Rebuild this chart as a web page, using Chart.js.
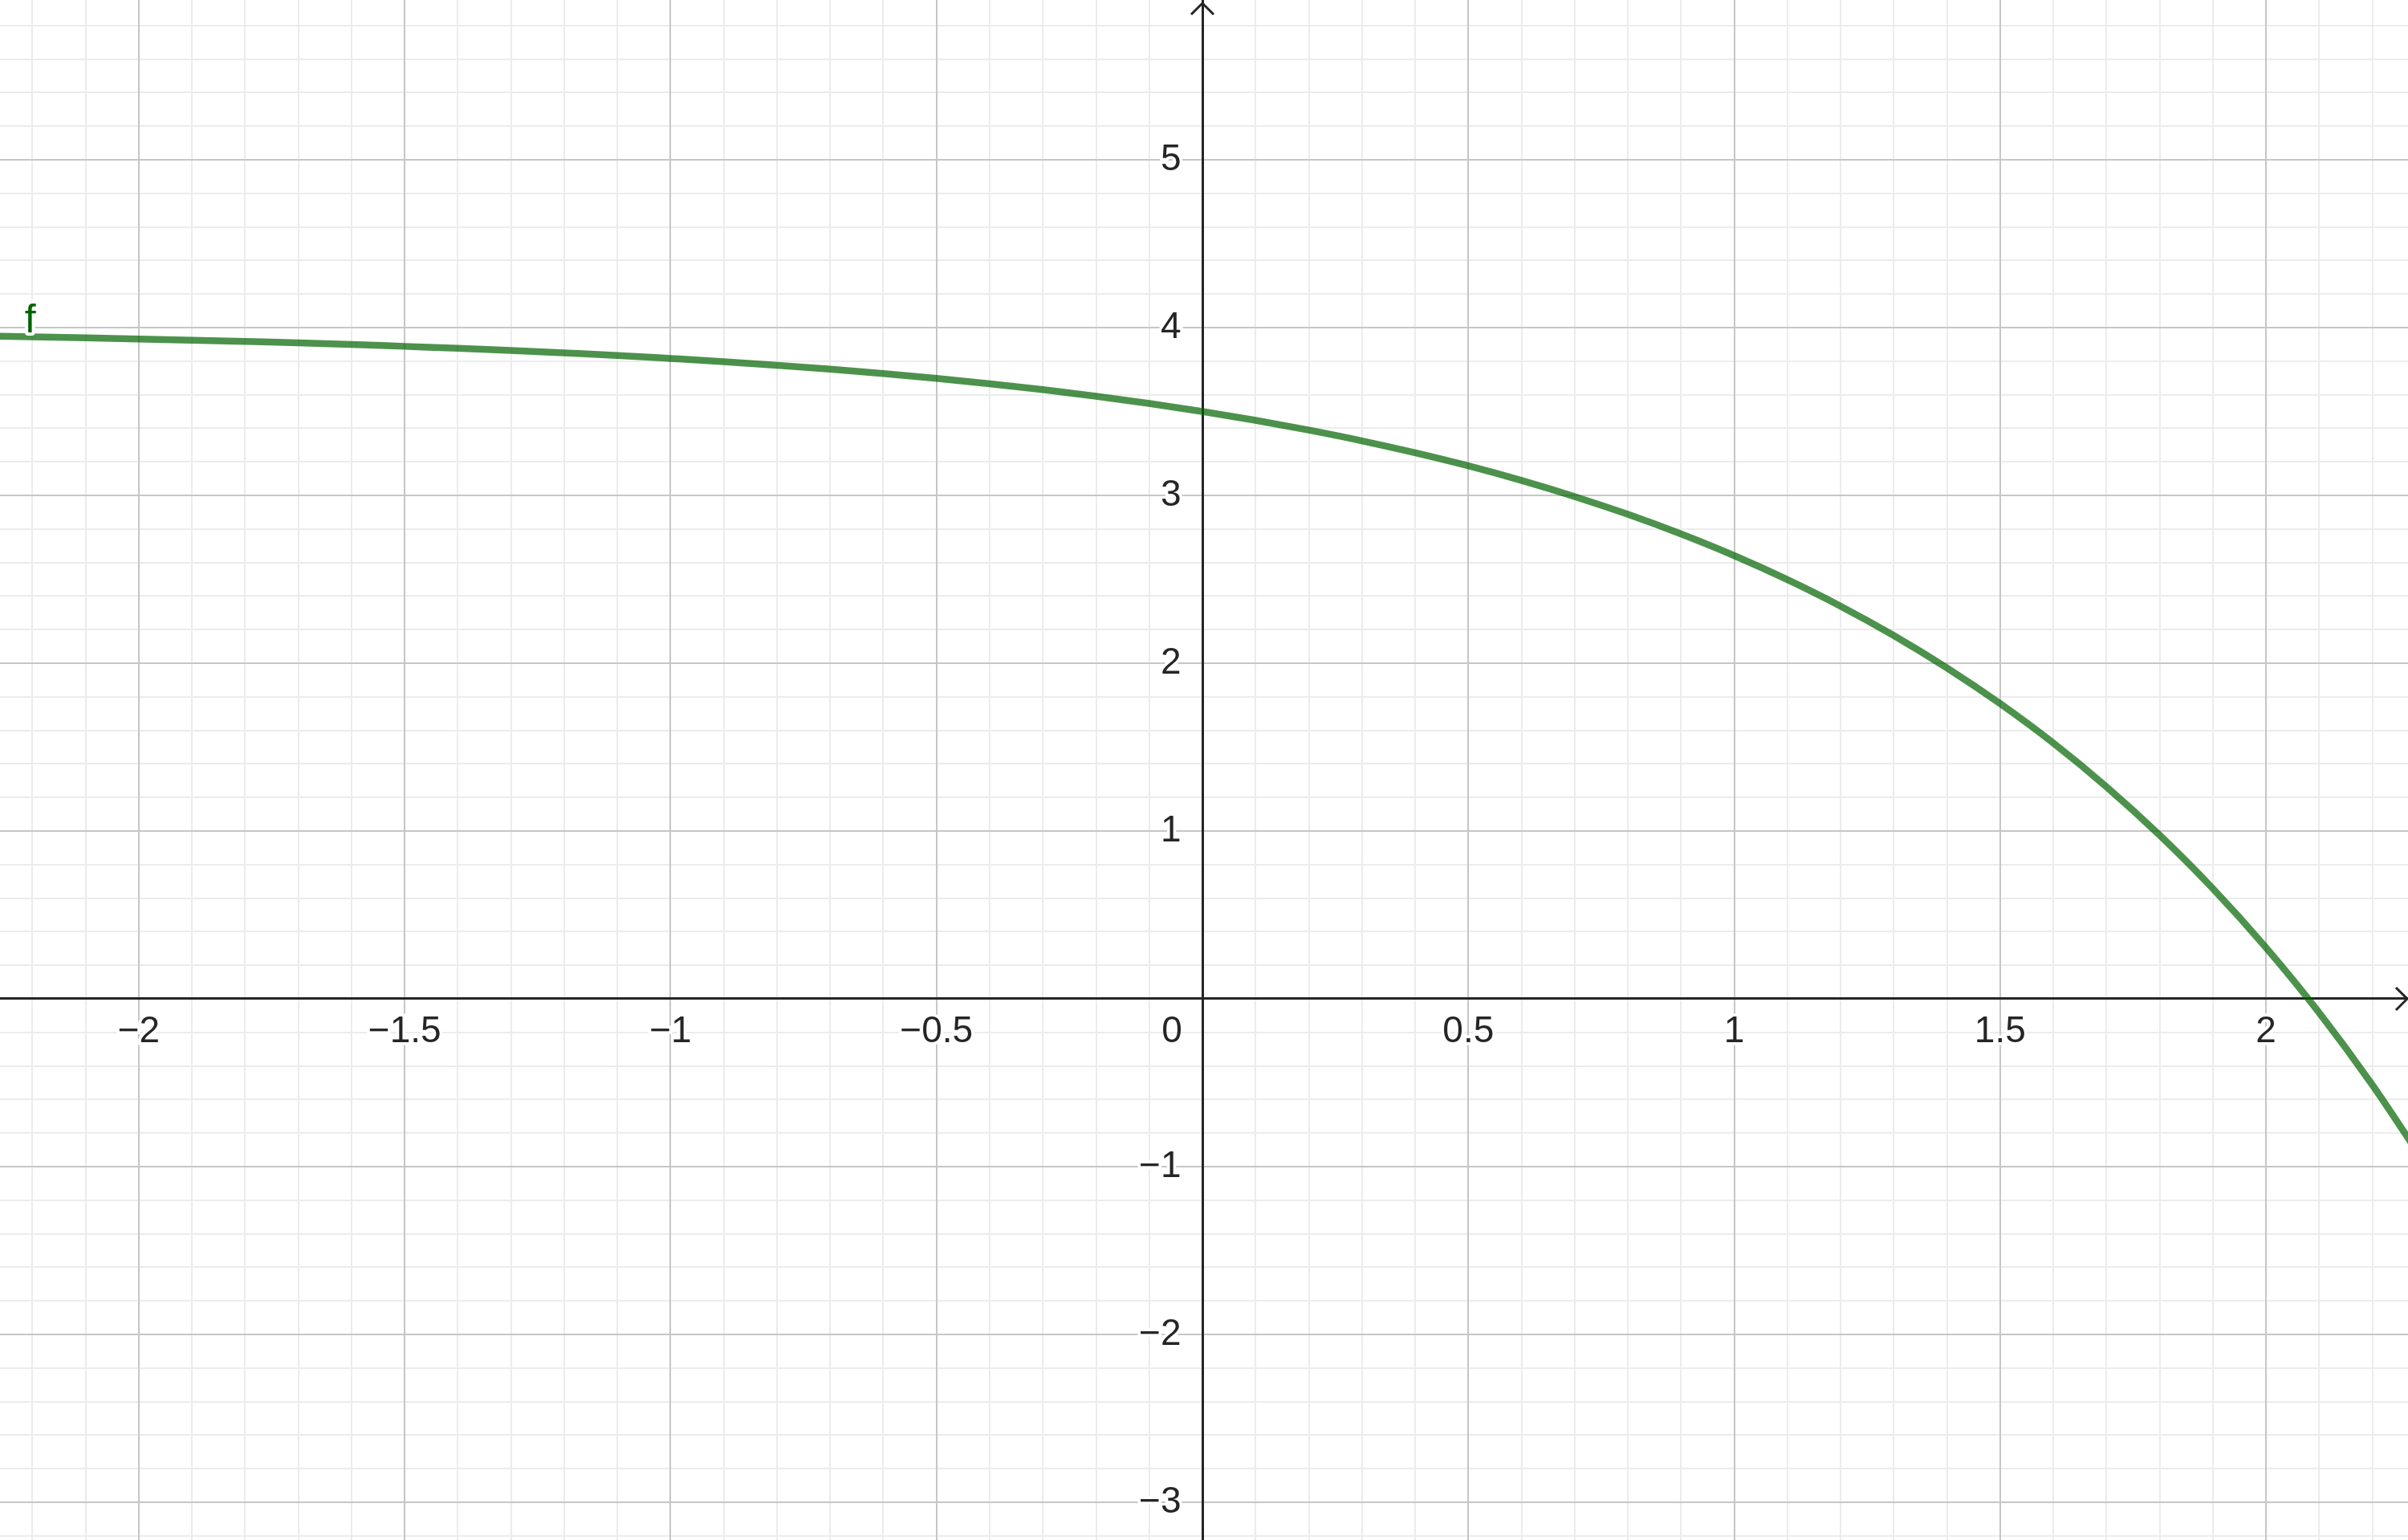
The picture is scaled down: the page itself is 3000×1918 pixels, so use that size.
<!DOCTYPE html>
<html>
<head>
<meta charset="utf-8">
<script src="https://cdn.jsdelivr.net/npm/chart.js@4.4.1/dist/chart.umd.min.js"></script>
<style>
  html, body { margin: 0; padding: 0; background: #ffffff; }
  #wrap { width: 3000px; height: 1918px; }
</style>
</head>
<body>
<div id="wrap"><canvas id="plot" width="3000" height="1918"></canvas></div>
<script>
// curve f
const xValues = [-2.3, -2.2, -2.1, -2.0, -1.9, -1.8, -1.7, -1.6, -1.5, -1.4, -1.3, -1.2,
  -1.1, -1.0, -0.9, -0.8, -0.7, -0.6, -0.5, -0.4, -0.3, -0.2, -0.1, 0,
  0.1, 0.2, 0.3, 0.4, 0.5, 0.6, 0.7, 0.8, 0.9, 1.0, 1.1, 1.2,
  1.3, 1.4, 1.5, 1.6, 1.7, 1.8, 1.9, 2.0, 2.1, 2.2, 2.3];
const yValues = [3.950, 3.945, 3.939, 3.932, 3.925, 3.917, 3.909, 3.899, 3.888, 3.877, 3.864, 3.849,
  3.834, 3.816, 3.797, 3.775, 3.752, 3.726, 3.697, 3.665, 3.630, 3.591, 3.548, 3.500,
  3.447, 3.389, 3.325, 3.254, 3.176, 3.089, 2.993, 2.887, 2.770, 2.641, 2.498, 2.340,
  2.165, 1.972, 1.759, 1.524, 1.263, 0.975, 0.657, 0.305, -0.083, -0.513, -0.987];

const xTicks = [-2, -1.5, -1, -0.5, 0, 0.5, 1, 1.5, 2];
const xTickLabels = ['−2', '−1.5', '−1', '−0.5', '', '0.5', '1', '1.5', '2'];
const yTicks = [-3, -2, -1, 0, 1, 2, 3, 4, 5];
const yTickLabels = ['−3', '−2', '−1', '', '1', '2', '3', '4', '5'];
const xRange = [-2.261, 2.267];
const yRange = [-3.225, 5.952];
const curveName = 'f';

const axisColor = '#252525';
const majorGrid = '#c6c6c6';
const minorGrid = '#ececec';
const curveColor = 'rgba(0, 100, 0, 0.7)';
const labelFont = { family: 'Liberation Sans', size: 46 };

// arrows, origin label and the name of the curve
const axisExtras = {
  id: 'axisExtras',
  afterDatasetsDraw(chart) {
    const c = chart.ctx;
    const sx = chart.scales.x, sy = chart.scales.y;
    c.save();
    c.font = '50px "Liberation Sans"';
    c.textAlign = 'center';
    c.textBaseline = 'alphabetic';
    c.lineJoin = 'round';
    c.strokeStyle = '#ffffff';
    c.lineWidth = 8;
    const fx = sx.getPixelForValue(-2.204), fy = sy.getPixelForValue(3.97);
    c.strokeText(curveName, fx, fy);
    c.fillStyle = '#006400';
    c.fillText(curveName, fx, fy);
    c.restore();
  },
  afterDraw(chart) {
    const c = chart.ctx;
    const area = chart.chartArea;
    const ox = chart.scales.x.getPixelForValue(0);
    const oy = chart.scales.y.getPixelForValue(0);
    c.save();
    c.strokeStyle = axisColor;
    c.lineWidth = 3;
    c.beginPath();
    c.moveTo(area.right - 15, oy - 14);
    c.lineTo(area.right - 1, oy);
    c.lineTo(area.right - 15, oy + 14);
    c.moveTo(ox - 14, area.top + 18);
    c.lineTo(ox, area.top + 4);
    c.lineTo(ox + 14, area.top + 18);
    c.stroke();
    c.font = '46px "Liberation Sans"';
    c.textAlign = 'center';
    c.textBaseline = 'middle';
    c.fillStyle = axisColor;
    c.fillText('0', ox - 38, oy + 41);
    c.restore();
  }
};

const ctx = document.getElementById('plot').getContext('2d');
new Chart(ctx, {
  type: 'line',
  data: {
    datasets: [{
      label: curveName,
      data: xValues.map((x, i) => ({ x: x, y: yValues[i] })),
      borderColor: curveColor,
      borderWidth: 8.5,
      pointRadius: 0,
      cubicInterpolationMode: 'monotone',
      fill: false
    }]
  },
  options: {
    responsive: false,
    devicePixelRatio: 1,
    animation: false,
    layout: { padding: 0 },
    plugins: {
      legend: { display: false },
      tooltip: { enabled: false }
    },
    scales: {
      xMinor: {
        type: 'linear', axis: 'x', position: { y: 0 },
        min: xRange[0], max: xRange[1],
        ticks: { display: false, stepSize: 0.1, maxTicksLimit: 100, includeBounds: false },
        grid: { color: minorGrid, lineWidth: 2, drawTicks: false, z: -3 },
        border: { display: false }
      },
      yMinor: {
        type: 'linear', axis: 'y', position: { x: 0 },
        min: yRange[0], max: yRange[1],
        ticks: { display: false, stepSize: 0.2, maxTicksLimit: 100, includeBounds: false },
        grid: { color: minorGrid, lineWidth: 2, drawTicks: false, z: -3 },
        border: { display: false }
      },
      x: {
        type: 'linear', position: { y: 0 },
        min: xRange[0], max: xRange[1],
        afterBuildTicks: s => { s.ticks = xTicks.map(v => ({ value: v })); },
        ticks: {
          callback: (v, i) => xTickLabels[i],
          font: labelFont, color: axisColor, padding: 14,
          autoSkip: false, maxRotation: 0,
          textStrokeColor: '#ffffff', textStrokeWidth: 7
        },
        grid: {
          color: c => (c.tick && c.tick.value === 0) ? axisColor : majorGrid,
          lineWidth: c => (c.tick && c.tick.value === 0) ? 3 : 2,
          drawTicks: false, z: -1
        },
        border: { display: true, color: axisColor, width: 3 }
      },
      y: {
        type: 'linear', position: { x: -0.04 },
        min: yRange[0], max: yRange[1],
        afterBuildTicks: s => { s.ticks = yTicks.map(v => ({ value: v })); },
        ticks: {
          callback: (v, i) => yTickLabels[i],
          font: labelFont, color: axisColor, padding: -40,
          autoSkip: false,
          textStrokeColor: '#ffffff', textStrokeWidth: 7
        },
        grid: { color: majorGrid, lineWidth: 2, drawTicks: false, z: -2 },
        border: { display: false }
      }
    }
  },
  plugins: [axisExtras]
});
</script>
</body>
</html>
